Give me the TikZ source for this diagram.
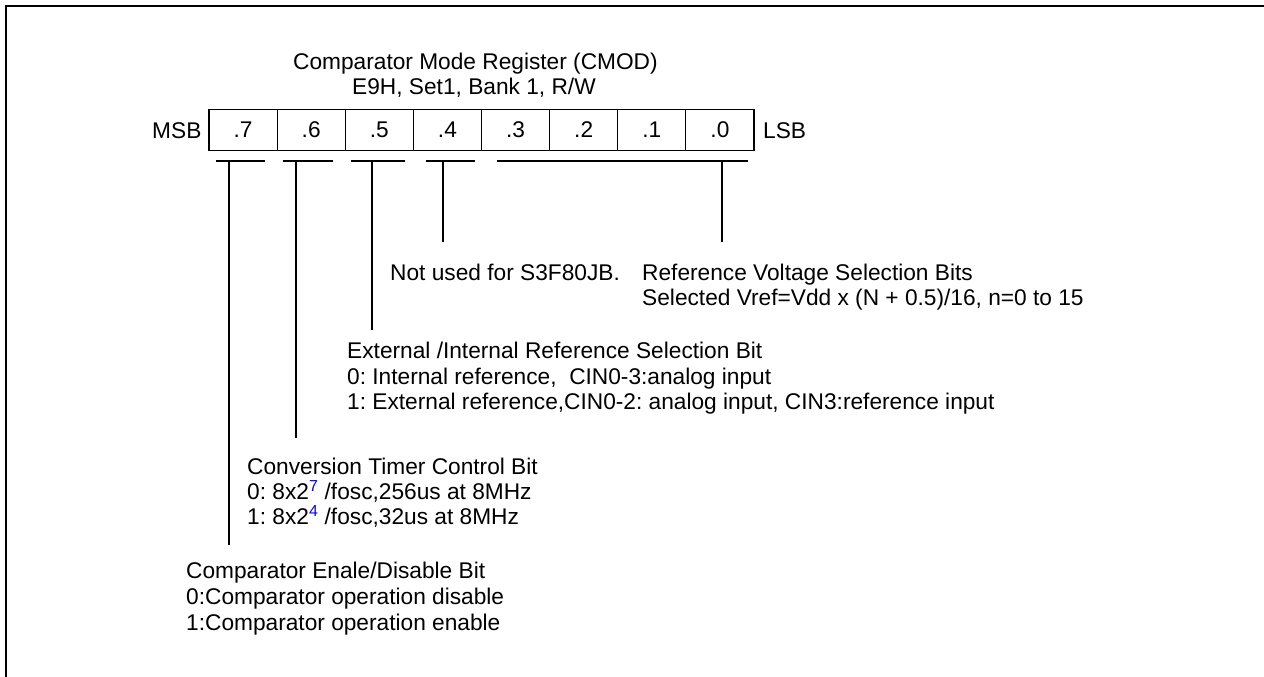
\documentclass[tikz,border=0pt]{standalone}
\usepackage{fontspec}
\setmainfont{Liberation Sans}
\usepackage{xcolor}
\frenchspacing
\begin{document}
\begin{tikzpicture}[x=1pt,y=-1pt,
  every node/.style={font=\fontsize{22.7}{26}\selectfont, inner sep=0pt},
  cell/.style={draw, line width=1.1pt, minimum width=68.1pt, minimum height=41.4pt, anchor=center},
  txt/.style={anchor=base west},
  reg/.style={line width=1.1pt},
  frame/.style={line width=2.4pt}]
\useasboundingbox (0,0) rectangle (1264,677);
% frame (top and left only)
\coordinate (f1) at (6,677);
\coordinate (f2) at (6,6);
\coordinate (f3) at (1264,6);
\draw[frame] (f1) -- (f2) -- (f3);
% title
\node[txt] (t1) at (293,70) {Comparator Mode Register (CMOD)};
\node[txt] (t2) at (352,95) {E9H, Set1, Bank 1, R/W};
% register cells
\node[cell] (b7) at (243.06,130) {.7};
\node[cell] (b6) at (311.19,130) {.6};
\node[cell] (b5) at (379.31,130) {.5};
\node[cell] (b4) at (447.44,130) {.4};
\node[cell] (b3) at (515.56,130) {.3};
\node[cell] (b2) at (583.69,130) {.2};
\node[cell] (b1) at (651.81,130) {.1};
\node[cell] (b0) at (719.94,130) {.0};
\node[txt] (msb) at (152,138) {MSB};
\node[txt] (lsb) at (763,138) {LSB};
% bars
\coordinate (a7) at (216,161); \coordinate (z7) at (265,161);
\coordinate (a6) at (283,161); \coordinate (z6) at (333,161);
\coordinate (a5) at (351,161); \coordinate (z5) at (405,161);
\coordinate (a4) at (426,161); \coordinate (z4) at (475,161);
\coordinate (a0) at (497,161); \coordinate (z0) at (748,161);
\draw[reg] (a7) -- (z7);
\draw[reg] (a6) -- (z6);
\draw[reg] (a5) -- (z5);
\draw[reg] (a4) -- (z4);
\draw[reg] (a0) -- (z0);
% verticals
\coordinate (v7) at (229,161); \coordinate (e7) at (229,545);
\coordinate (v6) at (296,161); \coordinate (e6) at (296,438);
\coordinate (v5) at (372,161); \coordinate (e5) at (372,330);
\coordinate (v4) at (443,161); \coordinate (e4) at (443,242);
\coordinate (v0) at (722,161); \coordinate (e0) at (722,242);
\draw[reg] (v7) -- (e7);
\draw[reg] (v6) -- (e6);
\draw[reg] (v5) -- (e5);
\draw[reg] (v4) -- (e4);
\draw[reg] (v0) -- (e0);
% descriptions
\node[txt] (n4) at (390,280) {Not used for S3F80JB.};
\node[txt] (r1) at (642,280) {Reference Voltage Selection Bits};
\node[txt] (r2) at (642,305) {Selected Vref=Vdd x (N + 0.5)/16, n=0 to 15};
\node[txt] (x1) at (347,358) {External /Internal Reference Selection Bit};
\node[txt] (x2) at (347,384) {0: Internal reference,\ \ CIN0-3:analog input};
\node[txt] (x3) at (347,409) {1: External reference,CIN0-2: analog input, CIN3:reference input};
\node[txt] (c1) at (247,474) {Conversion Timer Control Bit};
\node[txt] (c2) at (247,499) {0: 8x2\textsuperscript{\color{blue}7} /fosc,256us at 8MHz};
\node[txt] (c3) at (247,524) {1: 8x2\textsuperscript{\color{blue}4} /fosc,32us at 8MHz};
\node[txt] (e1) at (186,578) {Comparator Enale/Disable Bit};
\node[txt] (e2) at (186,604) {0:Comparator operation disable};
\node[txt] (e3) at (186,630) {1:Comparator operation enable};
\end{tikzpicture}
\end{document}
